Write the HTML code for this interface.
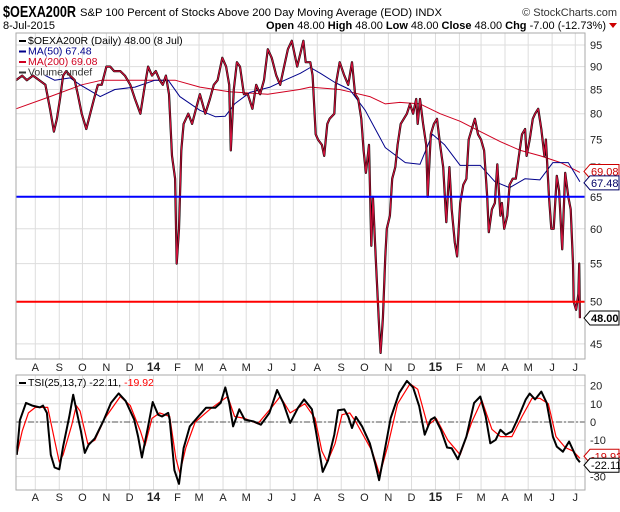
<!DOCTYPE html>
<html><head><meta charset="utf-8"><style>
body{margin:0;background:#fff;width:620px;height:507px;overflow:hidden;font-family:"Liberation Sans",sans-serif}
svg text{font-family:"Liberation Sans",sans-serif}
</style></head><body>
<svg id="c" width="620" height="507">
<text x="3" y="17" font-size="16" font-weight="bold" textLength="73" lengthAdjust="spacingAndGlyphs">$OEXA200R</text>
<text x="80" y="16" font-size="11" textLength="362" lengthAdjust="spacingAndGlyphs">S&amp;P 100 Percent of Stocks Above 200 Day Moving Average (EOD) INDX</text>
<text x="617" y="16" font-size="11" fill="#333" text-anchor="end">© StockCharts.com</text>
<text x="3" y="29" font-size="11">8-Jul-2015</text>
<text x="606" y="29" font-size="11" text-anchor="end"><tspan font-weight="bold">Open</tspan> 48.00 <tspan font-weight="bold">High</tspan> 48.00 <tspan font-weight="bold">Low</tspan> 48.00 <tspan font-weight="bold">Close</tspan> 48.00 <tspan font-weight="bold">Chg</tspan> -7.00 (-12.73%)</text>
<polygon points="609,23 617,23 613,28" fill="#c00"/>
<g id="main"></g><g id="tsi"></g>
</svg>
<script>
const NS="http://www.w3.org/2000/svg";
// ---- data (days since 7-Jul-2013) ----
const priceDays=[0,8,14,22,38,44,49,53,57,61,65,70,76,80,85,91,96,101,106,111,117,122,127,135,141,148,154,161,166,171,176,181,186,190,194,198,202,206,208,211,214,217,223,228,233,238,245,251,256,261,267,272,276,278,282,286,290,295,300,306,311,316,321,326,331,337,342,347,352,357,364,372,375,381,384,388,391,396,399,403,406,412,414,419,425,430,435,439,443,447,450,453,457,460,462,466,470,472,475,478,480,484,487,491,494,498,502,506,510,514,518,520,523,527,531,533,537,541,545,549,553,557,561,564,568,571,575,579,583,586,590,594,598,602,606,610,612,616,620,623,627,629,632,636,639,643,647,651,655,659,661,665,669,672,676,680,684,686,690,693,696,700,703,707,711,715,718,721,722,725,728,729,730];
const priceVals=[87,88,87,88,86,81,76.5,79,83,88,89,88,87,84,80,77,80,83,86,86,90,90,89,89,88,86,83,80,85,90,88,89,87,86,88,84,72,68,55,60,73,78,80,78,81,84,80,83,86,87,92,90,86,73,85,91,90,84,84,81,86,84,87,94,92,88,86,90,94,96,90,96,91,91,88,76,75,74,72,78,79,80,86,91,88,86,91,84,83,79,73,69,74,57.5,65,55,47,44,48,56,60,62,68,70,74,78,79,80,82,80,83,78,83,78,74,65,76,78,79,74,70,61,70,63,58,56,64,67,68,75,77,79,76,75,73,65,59.5,63,64,70.5,62,64,60,62,67,68,68,72,76,77,72,75,79,80,81,77,72,75,65,60,60,68.5,66,57,69,65,63,55,50,49,51,55,48];
const ma50Days=[38,50,70,83,109,128,154,180,197,212,238,258,271,283,303,329,348,368,381,394,413,432,452,478,504,523,539,555,575,601,620,639,659,678,695,715,730];
const ma50Vals=[88,87,87.5,86,83.5,85,85.5,87,87,83.5,80.7,79.4,79.5,82,84.4,85.5,87,88.5,89.8,88.5,86.5,85,80.7,73.5,70.8,70.5,76,74,70.3,70.3,67.5,66.5,68,67.8,70.8,70.8,67.48];
const ma200Days=[0,44,85,111,148,186,206,238,276,326,367,381,419,432,458,478,497,523,549,575,601,627,653,679,705,730];
const ma200Vals=[81,83.5,86,87,87,87,87,85.5,84.5,84,85,85.5,85,84.5,83.5,82,82.3,82,80,78.5,76.5,74.6,73,72,70.8,69.08];
const tsiDays=[1,5,13,21,31,35,40,45,50,56,61,69,74,79,84,89,94,102,113,123,133,142,153,158,163,171,177,184,189,197,199,205,211,217,225,236,246,258,265,271,276,281,289,296,307,317,328,338,346,355,365,373,383,388,395,397,404,412,417,425,430,435,440,448,458,465,470,475,485,496,506,514,522,529,537,542,550,558,564,572,583,593,601,608,614,621,627,634,642,650,660,665,672,680,687,695,700,708,716,721,726,730];
const tsiVals=[-18,1,10.5,9,8,9,5,-18,-25,-26,-13.5,3,15,5,-5,-17,-12.5,-9,0.5,10.5,15.7,11.5,1.3,-8,-19.5,-2.4,11,4,3,5,1.3,-26.5,-34,-14.4,-2.4,3,7.8,7.8,10.5,19,10.5,-2.4,7,1.3,0.4,-1.5,5,17.6,10.5,-0.5,7.8,12.4,7,-4.3,-22,-27.4,-21,-7,6.5,6.9,3,-3.3,2.8,-2.4,-11.7,-22.8,-32,-21,2.2,16,22.6,19,8.7,-7,1.3,2.6,-4.3,-14,-14.4,-20.5,-8,10.5,14,3,-11.7,-9.8,-4.3,-7,-5.2,2.2,12.4,15.6,12.4,16.7,10.5,-8,-13.5,-16.3,-10.7,-15.4,-20,-22.11];
const sigDays=[1,8,16,25,41,50,56,61,72,78,83,93,102,115,135,148,161,167,176,186,199,207,212,220,232,251,267,274,283,296,313,331,342,355,374,387,396,403,413,422,432,440,461,471,482,494,510,520,533,544,559,575,590,603,616,627,642,655,668,678,689,699,711,721,730];
const sigVals=[-18,-5,5,8,8,-10,-22,-18,-2,9,6,-12,-10,2,14,9,-5,-13,2,5,3,-20,-28,-14,0,7,12,14,3,2,-1,8,14,5,10,2,-16,-22,-12,4,5,0,-16,-29,-12,10,21,18,-2,2,-10,-18,0,12,-4,-8,-8,3,13,13,10,-8,-14,-16,-19.92];
const monthDays=[25,56,86,117,147,178,209,237,268,298,329,359,390,421,451,482,512,543,574,602,633,663,694,724];
const monthLabels=["A","S","O","N","D","14","F","M","A","M","J","J","A","S","O","N","D","15","F","M","A","M","J","J"];
const priceTicks=[45,50,55,60,65,70,75,80,85,90,95];
const tsiTicks=[-30,-20,-10,0,10,20];
// ---- scales ----
const L=16,R=585,MT=33,MB=359,TT=375,TB=490;
const xS=d=>L+d*0.7725;
const yP=v=>45+(Math.log10(95)-Math.log10(v))*921;
const yT=v=>422-v*1.82;
function mk(tag,attrs,parent){const e=document.createElementNS(NS,tag);for(const k in attrs)e.setAttribute(k,attrs[k]);parent.appendChild(e);return e;}
const main=document.getElementById('main'),tsi=document.getElementById('tsi');
function grid(p,top,bot,ticks,yf,name){
  monthDays.forEach(d=>{const l=mk('line',{x1:xS(d),x2:xS(d),y1:top,y2:bot,stroke:'#ddd','stroke-width':1},p);
  
  });
  ticks.forEach(v=>{const y=yf(v);const l=mk('line',{x1:L,x2:R,y1:y,y2:y,stroke:'#ddd','stroke-width':1},p);
  
  
  const t=mk('text',{x:R+5,y:y+4,'font-size':11,fill:'#222'},p);t.textContent=v;
  
  });
}
function path(p,days,vals,yf,color,w,name){
  const d=days.map((dd,i)=>(i?'L':'M')+xS(dd).toFixed(1)+','+yf(vals[i]).toFixed(1)).join('');
  const e=mk('path',{d:d,fill:'none',stroke:color,'stroke-width':w,'stroke-linejoin':'round'},p);
  
  
}
function months(y){monthDays.forEach((d,i)=>{const b=/\d/.test(monthLabels[i]);
  const t=mk('text',{x:xS(d),y:y,'font-size':b?12:11,'font-weight':b?'bold':'normal','text-anchor':'middle',fill:'#222'},main);
  t.textContent=monthLabels[i];
  
  });}
function tag(p,y,txt,color,bold,name){
  mk('polygon',{points:`${R-1},${y} ${R+5},${y-7} ${R+34},${y-7} ${R+34},${y+7} ${R+5},${y+7}`,fill:'#fff',stroke:color,'stroke-width':1},p);
  const t=mk('text',{x:R+6,y:y+4,'font-size':11,'font-weight':bold?'bold':'normal',fill:color==='#c00'?'#c00':(color==='#006'?'#006':'#000')},p);
  t.textContent=txt;
  
  
}
// main panel
grid(main,MT,MB,priceTicks,yP,'price');
path(main,ma200Days,ma200Vals,yP,'#d00020',1,'ma200-line');
path(main,ma50Days,ma50Vals,yP,'#00008b',1,'ma50-line');
path(main,priceDays,priceVals,yP,'#000',2.2,'price-line');
path(main,priceDays,priceVals,yP,'#d0103a',1.2,'price-line-overlay');
[[65,'#0000ff','support-line-65'],[50,'#ff0000','support-line-50']].forEach(a=>{const l=mk('line',{x1:L,x2:R,y1:yP(a[0]),y2:yP(a[0]),stroke:a[1],'stroke-width':2},main);

});
mk('rect',{x:L,y:MT,width:R-L,height:MB-MT,fill:'none',stroke:'#aaa'},main);
tag(main,yP(69.08)-1,'69.08','#c00',false,'ma200-value-tag');
tag(main,yP(67.48)+1,'67.48','#006',false,'ma50-value-tag');
tag(main,yP(48),'48.00','#000',true,'close-value-tag');
// legend
const lg=[['$OEXA200R (Daily) 48.00 (8 Jul)','#000'],['MA(50) 67.48','#00008b'],['MA(200) 69.08','#d00020'],['Volume undef','#333']];
lg.forEach((a,i)=>{const y=44+i*10.5;mk('rect',{x:19,y:y-4,width:7,height:2,fill:a[1]},main);
const t=mk('text',{x:28,y:y,'font-size':10.5,fill:a[1]},main);t.textContent=a[0];

});
months(371);months(501);
// TSI panel
grid(tsi,TT,TB,tsiTicks,yT,'tsi');
const z=mk('line',{x1:L,x2:R,y1:yT(0),y2:yT(0),stroke:'#555','stroke-dasharray':'6,2,2,2'},tsi);


path(tsi,sigDays,sigVals,yT,'#f00',1.2,'tsi-signal-line');
path(tsi,tsiDays,tsiVals,yT,'#000',2,'tsi-line');
mk('rect',{x:L,y:TT,width:R-L,height:TB-TT,fill:'none',stroke:'#aaa'},tsi);
tag(tsi,yT(-19.92)-2,'-19.92','#c00',false,'tsi-signal-tag');
tag(tsi,yT(-22.11)+3,'-22.11','#000',false,'tsi-value-tag');
mk('rect',{x:19,y:382,width:7,height:2,fill:'#000'},tsi);
const tl=mk('text',{x:28,y:386,'font-size':10.5},tsi);tl.innerHTML='TSI(25,13,7) -22.11, <tspan fill="#f00">-19.92</tspan>';


</script>
</body></html>
